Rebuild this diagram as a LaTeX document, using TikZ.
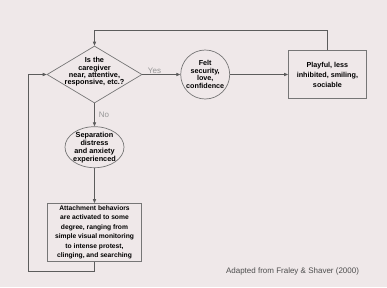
\documentclass[tikz,border=0pt]{standalone}
\usepackage{fontspec}
\setmainfont{Liberation Sans}
\usepackage{xcolor}
\usepackage{tikz}
\usetikzlibrary{positioning,arrows.meta,shapes.geometric}
\definecolor{bgPink}{RGB}{239,232,233}
\definecolor{dLine}{RGB}{92,92,92}
\definecolor{dEdge}{RGB}{118,118,118}
\definecolor{dLbl}{RGB}{150,150,150}
\definecolor{dNote}{RGB}{78,78,78}
\tikzset{
  dia/.style={diamond, draw=dEdge, line width=0.7pt, inner sep=0pt,
              minimum width=95pt, minimum height=57pt},
  diatxt/.style={align=center, font=\fontsize{7.3}{7.3}\selectfont\bfseries,
                 inner sep=0pt, yshift=2.5pt},
  rnd/.style={circle, draw=dEdge, line width=0.7pt, inner sep=-1pt,
              minimum size=49pt, align=center,
              font=\fontsize{7.2}{7.6}\selectfont\bfseries},
  oval/.style={ellipse, draw=dEdge, line width=0.7pt, inner sep=-2.5pt,
               minimum width=59pt, minimum height=41pt, align=center,
               font=\fontsize{7.3}{8}\selectfont\bfseries},
  box/.style={rectangle, draw=dEdge, line width=0.7pt, inner sep=2pt,
              align=center, font=\fontsize{6.7}{9.5}\selectfont\bfseries},
  flow/.style={-{Triangle[length=4pt,width=3.2pt]}, draw=dLine, line width=0.7pt},
  lbl/.style={font=\fontsize{8}{9}\selectfont, text=dLbl, inner sep=1pt},
  note/.style={font=\fontsize{8}{9}\selectfont, text=dNote, inner sep=0pt},
}

\begin{document}
\begin{tikzpicture}[x=1pt,y=1pt]
  \useasboundingbox[fill=bgPink] (0,0) rectangle (387,-287);

  % --- decision: is the caregiver there? ---
  \node[dia, label={[diatxt]center:Is the\\caregiver\\near, attentive,\\responsive, etc.?}]
    (care) at (94.5,-74.5) {};

  % --- yes branch ---
  \node[rnd, right=38pt of care] (felt) {Felt\\security,\\love,\\confidence};
  \node[box, right=58pt of felt, minimum width=78pt, minimum height=48pt,
        font=\fontsize{7.2}{10}\selectfont\bfseries]
    (play) {Playful, less\\inhibited, smiling,\\sociable};

  % --- no branch ---
  \node[oval, below=23pt of care] (sep) {Separation\\distress\\and anxiety\\experienced};
  \node[box, below=35pt of sep, minimum width=94pt, minimum height=58pt]
    (attach) {Attachment behaviors\\are activated to some\\degree, ranging from\\simple visual monitoring\\to intense protest,\\clinging, and searching};

  % --- source note ---
  \node[note] (src) at (292.5,-271) {Adapted from Fraley \& Shaver (2000)};

  % --- arrows ---
  \draw[flow] (care.east) -- node[lbl, above, pos=0.32]{Yes} (felt.west);
  \draw[flow] (felt.east) -- (play.west);
  \draw[flow] (care.south) -- node[lbl, right, pos=0.48, xshift=3pt]{No} (sep.north);
  \draw[flow] (sep.south) -- (attach.north);

  % --- feedback loops back to the decision ---
  \draw[flow] (play.north) -- ++(0,20) -| (care.north);
  \draw[flow] (attach.south) -- ++(0,-10) -| ([xshift=-18pt]care.west) -- (care.west);
\end{tikzpicture}
\end{document}
